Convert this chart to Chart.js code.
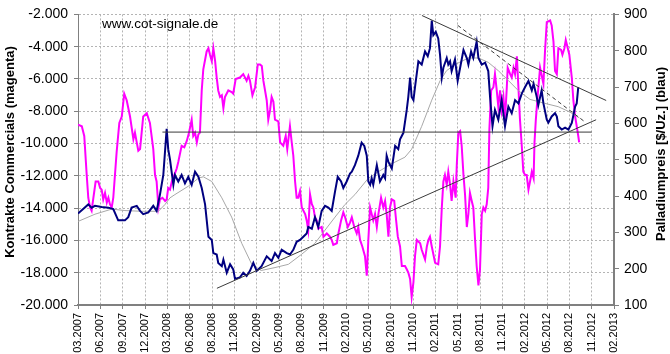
<!DOCTYPE html>
<html>
<head>
<meta charset="utf-8">
<script src="https://cdn.jsdelivr.net/npm/chart.js@4.4.1/dist/chart.umd.min.js"></script>
<style>
  html, body { margin: 0; padding: 0; background: #fff; }
  #wrap { width: 670px; height: 354px; position: relative; }
</style>
</head>
<body>
<div id="wrap"><canvas id="chart"></canvas></div>
<script>
// x positions are in "tick units": 0 = 03.2007, 24 = 02.2013 (one step per label)
const xLabels = ['03.2007', '06.2007', '09.2007', '12.2007', '03.2008', '06.2008', '08.2008',
  '11.2008', '02.2009', '05.2009', '08.2009', '11.2009', '02.2010', '05.2010', '08.2010',
  '11.2010', '02.2011', '05.2011', '08.2011', '11.2011', '02.2012', '05.2012', '08.2012',
  '11.2012', '02.2013'];

// Palladium price (right axis, blue) as [x, price]
const price = [
  [0, 352], [0.46, 377], [0.61, 368], [0.76, 373], [1.06, 370], [1.36, 368], [1.58, 364],
  [1.8, 333], [2.1, 333], [2.25, 342], [2.4, 368], [2.63, 373], [2.78, 359], [2.92, 350],
  [3.15, 355], [3.37, 373], [3.52, 359], [3.67, 404], [3.82, 458], [3.97, 585], [4.04, 529],
  [4.12, 500], [4.27, 431], [4.34, 458], [4.49, 440], [4.64, 458], [4.79, 435], [4.94, 453],
  [5.09, 431], [5.24, 467], [5.39, 453], [5.54, 422], [5.69, 377], [5.84, 288], [5.99, 279],
  [6.06, 243], [6.21, 239], [6.28, 216], [6.44, 207], [6.51, 225], [6.66, 189], [6.81, 212],
  [6.95, 198], [7.03, 172], [7.25, 176], [7.4, 189], [7.55, 180], [7.7, 194], [7.85, 216],
  [8.0, 194], [8.07, 198], [8.22, 207], [8.45, 234], [8.67, 221], [8.82, 243], [8.97, 230],
  [9.12, 252], [9.35, 243], [9.49, 239], [9.64, 252], [9.79, 274], [9.94, 279], [10.09, 288],
  [10.24, 297], [10.31, 315], [10.47, 310], [10.61, 342], [10.76, 315], [10.91, 359],
  [11.06, 373], [11.21, 368], [11.36, 359], [11.51, 413], [11.63, 453], [11.78, 440],
  [11.88, 422], [12.03, 440], [12.18, 462], [12.26, 467], [12.4, 485], [12.55, 511],
  [12.7, 547], [12.82, 538], [12.93, 511], [13.0, 440], [13.08, 431], [13.15, 449],
  [13.22, 431], [13.38, 485], [13.52, 440], [13.67, 458], [13.75, 449], [13.82, 511],
  [13.9, 494], [14.05, 476], [14.2, 538], [14.34, 529], [14.42, 556], [14.57, 574],
  [14.72, 637], [14.79, 673], [14.87, 726], [14.94, 673], [15.02, 664], [15.09, 700],
  [15.24, 771], [15.39, 762], [15.54, 798], [15.66, 785], [15.76, 807], [15.84, 883],
  [15.91, 843], [16.02, 852], [16.13, 834], [16.21, 789], [16.29, 726], [16.36, 753],
  [16.51, 780], [16.58, 762], [16.66, 771], [16.73, 744], [16.88, 776], [17.0, 717],
  [17.11, 753], [17.26, 802], [17.41, 780], [17.48, 762], [17.6, 798], [17.7, 780],
  [17.85, 825], [17.93, 780], [18.08, 762], [18.23, 767], [18.37, 744], [18.45, 673],
  [18.56, 592], [18.67, 637], [18.82, 610], [18.97, 664], [19.12, 592], [19.27, 646],
  [19.42, 628], [19.57, 664], [19.72, 655], [19.87, 682], [20.02, 700], [20.17, 717],
  [20.32, 691], [20.4, 709], [20.54, 673], [20.61, 650], [20.76, 691], [20.84, 655],
  [20.99, 610], [21.06, 602], [21.21, 619], [21.36, 628], [21.44, 619], [21.51, 592],
  [21.66, 583], [21.81, 588], [21.96, 583], [22.11, 601], [22.26, 646], [22.33, 655],
  [22.4, 700]
];

// moving average of the price (right axis, grey)
const priceAvg = [
  [0, 330], [0.76, 350], [1.51, 364], [2.1, 360], [2.85, 358], [3.6, 358], [3.9, 377],
  [4.12, 395], [4.34, 404], [4.94, 427], [5.39, 449], [5.61, 453], [5.99, 440], [6.44, 395],
  [6.88, 342], [7.33, 270], [7.78, 212], [8.2, 195], [8.82, 203], [9.42, 212], [10.0, 239],
  [10.61, 270], [11.06, 306], [11.51, 342], [11.96, 377], [12.4, 404], [13.0, 449],
  [13.45, 467], [14.05, 489], [14.64, 507], [14.94, 529], [15.39, 592], [15.84, 664],
  [16.21, 717], [16.5, 745], [16.88, 762], [17.48, 780], [17.93, 780], [18.37, 768],
  [18.82, 745], [19.27, 718], [19.72, 690], [20.24, 666], [20.91, 655], [21.5, 646],
  [22.0, 632], [22.45, 615]
];

// Commercials net contracts (left axis, magenta) as [x, contracts]
const commercials = [
  [0, -8825], [0.17, -8930], [0.28, -9530], [0.39, -11950], [0.46, -13355], [0.54, -13960],
  [0.61, -14160], [0.69, -13355], [0.79, -12350], [0.91, -12350], [0.99, -12750],
  [1.06, -12855], [1.13, -13460], [1.21, -13055], [1.29, -13660], [1.36, -13355],
  [1.43, -13760], [1.51, -13960], [1.58, -13355], [1.73, -10535], [1.85, -8720],
  [1.96, -8325], [2.07, -6910], [2.18, -7315], [2.33, -8325], [2.48, -9730], [2.55, -9325],
  [2.63, -9930], [2.7, -10440], [2.78, -10335], [2.85, -9325], [2.92, -8325], [3.08, -8120],
  [3.22, -8720], [3.37, -10335], [3.45, -11950], [3.52, -12350], [3.6, -13960],
  [3.67, -13460], [3.78, -13355], [3.9, -13555], [3.97, -13460], [4.04, -12750],
  [4.12, -12855], [4.2, -12350], [4.34, -11845], [4.42, -11545], [4.49, -11140],
  [4.64, -10135], [4.76, -10235], [4.87, -9835], [4.97, -9325], [5.09, -8520], [5.16, -9530],
  [5.24, -9325], [5.32, -9930], [5.39, -9430], [5.46, -9325], [5.54, -6710], [5.61, -5400],
  [5.76, -4295], [5.84, -4095], [5.91, -4500], [5.99, -4900], [6.06, -4095], [6.14, -4900],
  [6.21, -5910], [6.28, -6710], [6.36, -7115], [6.44, -7015], [6.51, -7815], [6.58, -7115],
  [6.73, -6710], [6.88, -6815], [6.95, -6910], [7.06, -6005], [7.25, -5910], [7.4, -5700],
  [7.55, -6105], [7.63, -5805], [7.7, -6105], [7.81, -7015], [7.93, -6510], [8.05, -5100],
  [8.15, -5100], [8.23, -5200], [8.3, -6105], [8.45, -7315], [8.52, -8520], [8.6, -7920],
  [8.67, -7115], [8.75, -7415], [8.82, -8520], [8.97, -8625], [9.05, -9930], [9.19, -10135],
  [9.3, -9530], [9.37, -10335], [9.49, -8930], [9.57, -9930], [9.64, -10740], [9.72, -12350],
  [9.79, -13355], [9.86, -13355], [9.94, -12950], [10.02, -13960], [10.17, -14365],
  [10.24, -14760], [10.31, -15365], [10.39, -13155], [10.47, -13760], [10.54, -13960],
  [10.61, -14565], [10.69, -14760], [10.76, -15270], [10.91, -15170], [10.99, -15770],
  [11.14, -15570], [11.28, -15770], [11.36, -15970], [11.43, -16275], [11.59, -16175],
  [11.66, -15570], [11.78, -14760], [11.88, -14260], [11.96, -14565], [12.08, -15170],
  [12.18, -14900], [12.26, -14565], [12.37, -15170], [12.48, -15570], [12.55, -15170],
  [12.63, -15970], [12.73, -16375], [12.85, -16980], [12.93, -18190], [13.0, -15970],
  [13.08, -13960], [13.22, -14760], [13.3, -14365], [13.38, -15170], [13.45, -14365],
  [13.57, -13355], [13.67, -13960], [13.75, -13555], [13.82, -14365], [13.9, -15770],
  [13.97, -13960], [14.05, -13460], [14.16, -13555], [14.23, -14565], [14.32, -15770],
  [14.42, -16375], [14.5, -17585], [14.64, -17585], [14.72, -17790], [14.79, -17990],
  [14.87, -18390], [14.94, -19500], [15.02, -18590], [15.09, -16980], [15.17, -15970],
  [15.32, -16175], [15.39, -16580], [15.54, -17180], [15.62, -16375], [15.69, -15970],
  [15.76, -15770], [15.84, -16375], [15.99, -17385], [16.13, -17480], [16.21, -16375],
  [16.29, -13960], [16.36, -12350], [16.43, -11950], [16.51, -12550], [16.58, -11745],
  [16.66, -12550], [16.73, -13555], [16.81, -12350], [16.91, -13355], [16.96, -11345],
  [17.03, -9325], [17.11, -9225], [17.18, -10135], [17.26, -11950], [17.33, -13155],
  [17.41, -15170], [17.48, -14365], [17.55, -13055], [17.63, -13555], [17.7, -13960],
  [17.78, -15970], [17.85, -17585], [17.93, -18790], [18.0, -17790], [18.08, -14365],
  [18.15, -13960], [18.23, -14160], [18.3, -13760], [18.37, -12750], [18.42, -9125],
  [18.5, -6710], [18.6, -6510], [18.67, -5700], [18.75, -6710], [18.82, -7720],
  [18.9, -6710], [18.97, -7920], [19.05, -7115], [19.12, -8520], [19.2, -6510],
  [19.24, -5305], [19.35, -5700], [19.42, -5910], [19.5, -5305], [19.57, -5700],
  [19.65, -4600], [19.72, -6510], [19.79, -8520], [19.87, -10135], [19.94, -11745],
  [20.02, -11950], [20.09, -11950], [20.17, -12850], [20.24, -12350], [20.32, -11745],
  [20.4, -12145], [20.44, -9930], [20.5, -8520], [20.59, -6910], [20.69, -5305],
  [20.84, -6305], [20.91, -4295], [20.99, -2485], [21.14, -2380], [21.21, -2685],
  [21.29, -3690], [21.36, -5500], [21.44, -5700], [21.51, -4095], [21.63, -4195],
  [21.69, -4500], [21.78, -4095], [21.84, -3590], [21.93, -4095], [22.0, -4500],
  [22.11, -5910], [22.18, -7315], [22.26, -8325], [22.33, -8925], [22.4, -9530],
  [22.44, -9930]
];

// trend lines on the price axis: [x, price] end points
const supportLine = [[3.78, 576], [23.0, 576]];
const upTrend = [[6.22, 146], [23.2, 610]];
const downTrend = [[15.4, 897], [23.65, 663]];
const downTrendDashed = [[17.0, 870], [22.7, 604]];

const FONT = 'Arial, "Liberation Sans", sans-serif';
const toXY = (arr) => arr.map((p) => ({ x: p[0], y: p[1] }));
const fmtDE = (v) => {
  const s = Math.abs(v).toString().replace(/\B(?=(\d{3})+(?!\d))/g, '.');
  return (v < 0 ? '-' : '') + s;
};

const trend = (arr, dash) => ({
  data: toXY(arr),
  yAxisID: 'yR',
  borderColor: '#3a3a3a',
  borderWidth: 1,
  borderDash: dash || [],
  pointRadius: 0,
  order: 0,
});

const textPlugin = {
  id: 'texts',
  afterDraw(chart) {
    const { ctx } = chart;
    ctx.save();
    ctx.fillStyle = '#000';
    ctx.font = `13.5px ${FONT}`;
    ctx.textAlign = 'left';
    ctx.textBaseline = 'middle';
    ctx.fillText('www.cot-signale.de', 102, 24);

    ctx.font = `bold 13px ${FONT}`;
    ctx.textAlign = 'center';
    ctx.save();
    ctx.translate(10, 152);
    ctx.rotate(-Math.PI / 2);
    ctx.fillText('Kontrakte Commercials (magenta)', 0, 0);
    ctx.restore();
    ctx.save();
    ctx.translate(661, 154);
    ctx.rotate(-Math.PI / 2);
    ctx.fillText('Palladiumpreis [$/Uz.] (blau)', 0, 0);
    ctx.restore();
    ctx.restore();
  },
};

const gridColor = '#b4b4b4';

// eslint-disable-next-line no-undef
const chart = new Chart(document.getElementById('chart'), {
  type: 'line',
  data: {
    datasets: [
      trend(supportLine),
      trend(upTrend),
      trend(downTrend),
      trend(downTrendDashed, [4, 3]),
      {
        data: toXY(price),
        yAxisID: 'yR',
        borderColor: '#000080',
        borderWidth: 2,
        pointRadius: 0,
        order: 1,
      },
      {
        data: toXY(priceAvg),
        yAxisID: 'yR',
        borderColor: '#a8a8a8',
        borderWidth: 1,
        pointRadius: 0,
        order: 2,
      },
      {
        data: toXY(commercials),
        yAxisID: 'yL',
        borderColor: '#ff00ff',
        borderWidth: 2,
        pointRadius: 0,
        order: 3,
      },
    ],
  },
  options: {
    responsive: true,
    maintainAspectRatio: false,
    animation: false,
    layout: { padding: { top: 7, left: 0, right: 0, bottom: 0 } },
    plugins: {
      legend: { display: false },
      tooltip: { enabled: false },
    },
    scales: {
      x: {
        type: 'linear',
        min: 0,
        max: 24,
        afterFit: (scale) => { scale.height = 49; },
        afterBuildTicks: (scale) => {
          scale.ticks = xLabels.map((l, i) => ({ value: i }));
        },
        ticks: {
          autoSkip: false,
          minRotation: 90,
          maxRotation: 90,
          padding: 4,
          color: '#000',
          font: { family: FONT, size: 11 },
          callback: (v) => xLabels[v],
        },
        grid: {
          color: gridColor,
          tickColor: '#808080',
          tickLength: 4,
        },
        border: { color: '#808080', width: 2, dash: [2, 2] },
      },
      yL: {
        position: 'left',
        min: -20000,
        max: -2000,
        afterFit: (scale) => { scale.width = 78; },
        ticks: {
          stepSize: 2000,
          padding: 6,
          color: '#000',
          font: { family: FONT, size: 14 },
          callback: (v) => fmtDE(v),
        },
        grid: {
          color: gridColor,
          tickColor: '#808080',
          tickLength: 4,
        },
        border: { color: '#808080', width: 1, dash: [2, 2] },
      },
      yR: {
        position: 'right',
        min: 100,
        max: 900,
        afterFit: (scale) => { scale.width = 56; },
        ticks: {
          stepSize: 100,
          padding: 5,
          color: '#000',
          font: { family: FONT, size: 14 },
        },
        grid: {
          drawOnChartArea: false,
          tickColor: '#808080',
          tickLength: 5,
        },
        border: { color: '#808080', width: 2 },
      },
    },
  },
  plugins: [textPlugin],
});
</script>
</body>
</html>
